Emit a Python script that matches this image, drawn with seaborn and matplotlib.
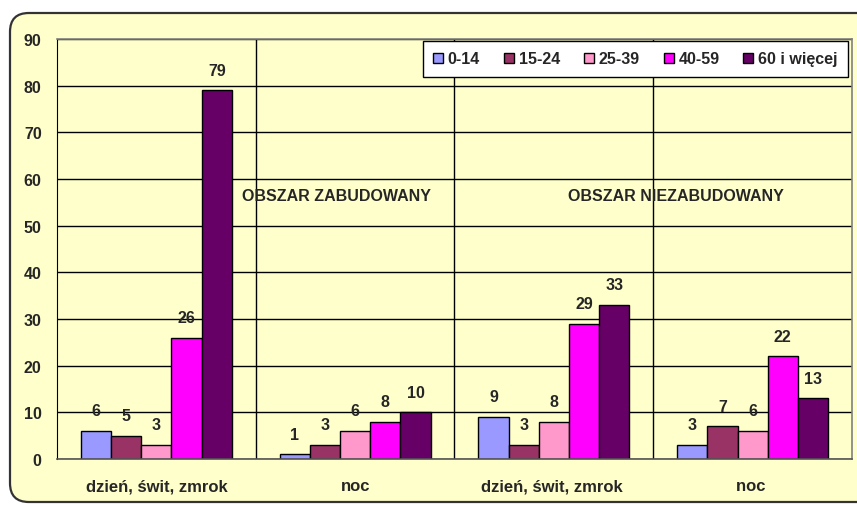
import matplotlib
matplotlib.use("Agg")
import matplotlib.pyplot as plt
from matplotlib.patches import FancyBboxPatch
import seaborn as sns
import pandas as pd

categories = ["dzień, świt, zmrok", "noc", "dzień, świt, zmrok ", "noc "]
series = ["0-14", "15-24", "25-39", "40-59", "60 i więcej"]
v_0_14 = [6, 1, 9, 3]
v_15_24 = [5, 3, 3, 7]
v_25_39 = [3, 6, 8, 6]
v_40_59 = [26, 8, 29, 22]
v_60 = [79, 10, 33, 13]
area_labels = ["OBSZAR ZABUDOWANY", "OBSZAR NIEZABUDOWANY"]
colors = ["#9999FF", "#993366", "#FF99CC", "#FF00FF", "#660066"]

values = [v_0_14, v_15_24, v_25_39, v_40_59, v_60]
rows = []
for s, vals in zip(series, values):
    for c, v in zip(categories, vals):
        rows.append({"kat": c, "grupa": s, "val": v})
df = pd.DataFrame(rows)

sns.set_style("white")
plt.rcParams["font.family"] = ["Liberation Sans", "DejaVu Sans"]
plt.rcParams["font.weight"] = "bold"

W, H = 857, 506
fig = plt.figure(figsize=(W / 100, H / 100), dpi=100)
fig.patch.set_facecolor("white")
bg = FancyBboxPatch((10 / W, 3 / H), 900 / W, 489 / H,
                    boxstyle="round,pad=0,rounding_size=0.022",
                    transform=fig.transFigure, facecolor="#FFFFCC",
                    edgecolor="#333333", linewidth=1.6, zorder=-5,
                    mutation_aspect=W / H)
fig.patches.append(bg)

ax = fig.add_axes([57 / W, 46 / H, 795 / W, 420 / H])
ax.set_facecolor("none")
ax.set_zorder(2)

sns.barplot(data=df, x="kat", y="val", hue="grupa", order=categories,
            hue_order=series, palette=colors, width=0.76, ax=ax,
            edgecolor="black", linewidth=1.0, saturation=1, errorbar=None)

for cont in ax.containers:
    ax.bar_label(cont, padding=9, fontsize=11.5, fontweight="bold")

ax.set_ylim(0, 90)
ax.set_xlim(-0.5, 3.5)
ax.set_yticks(range(0, 91, 10))
ax.yaxis.grid(True, color="black", linewidth=1.0)
ax.set_axisbelow(True)
for x in [0.5, 1.5, 2.5]:
    ax.axvline(x, color="black", linewidth=1.0, zorder=0.5)

ax.set_xticks([-0.5, 0.5, 1.5, 2.5, 3.5], minor=True)
ax.tick_params(axis="x", which="major", length=0, pad=14, labelsize=12)
ax.tick_params(axis="x", which="minor", length=7, width=1, color="black", direction="out")
ax.tick_params(axis="y", length=6, width=1, color="black", direction="out", labelsize=11.5, pad=5)
ax.set_xticklabels(categories, fontweight="bold")
for lab in ax.get_yticklabels():
    lab.set_fontweight("bold")
ax.set_xlabel("")
ax.set_ylabel("")

for sp in ["top", "right"]:
    ax.spines[sp].set_color("#808080")
    ax.spines[sp].set_linewidth(1.2)
ax.spines["left"].set_color("black")
ax.spines["bottom"].set_color("#555555")
ax.spines["bottom"].set_linewidth(1.2)

ax.text(0.907, 56.5, area_labels[0], ha="center", va="center", fontsize=11.5, fontweight="bold")
ax.text(2.616, 56.5, area_labels[1], ha="center", va="center", fontsize=11.5, fontweight="bold")

handles, labels = ax.get_legend_handles_labels()
leg = ax.legend(handles, labels, ncol=5, loc="upper right",
                bbox_to_anchor=(0.995, 0.995), borderaxespad=0,
                frameon=True, fancybox=False, edgecolor="black",
                facecolor="white", framealpha=1, handlelength=0.62,
                handleheight=0.62, handletextpad=0.3, columnspacing=1.5,
                prop={"weight": "bold", "size": 11.5}, borderpad=0.65)
leg.get_frame().set_linewidth(1.0)

fig.savefig("out.png", dpi=100)
